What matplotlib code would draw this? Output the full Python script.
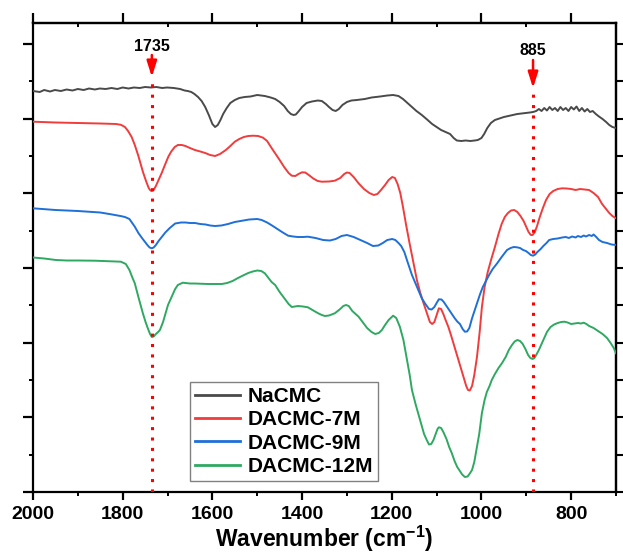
import numpy as np
import matplotlib
matplotlib.use("Agg")
import matplotlib.pyplot as plt
from matplotlib.ticker import MultipleLocator

plt.rcParams['font.family'] = ['Liberation Sans', 'DejaVu Sans']
plt.rcParams['font.weight'] = 'bold'
plt.rcParams['mathtext.fontset'] = 'custom'
plt.rcParams['mathtext.rm'] = 'Liberation Sans:bold'
plt.rcParams['mathtext.bf'] = 'Liberation Sans:bold'
plt.rcParams['mathtext.default'] = 'bf'

# ---------------- data (wavenumber cm-1, transmittance offset a.u.) ----------------
nacmc_wn = [2000, 1985, 1975, 1962, 1951, 1938, 1925, 1912, 1900, 1887, 1875, 1862, 1851, 1838, 1825,
            1812, 1800, 1787, 1775, 1762, 1750, 1737, 1725, 1712, 1701, 1686, 1672, 1662, 1655,
            1647, 1640, 1632, 1624, 1616, 1608, 1600, 1594, 1588, 1582, 1576, 1568, 1560, 1550, 1540,
            1528, 1515, 1500, 1483, 1470, 1460, 1450, 1440, 1432, 1425, 1419, 1414, 1408, 1400,
            1390, 1378, 1365, 1356, 1347, 1340, 1332, 1325, 1318, 1310, 1300, 1290, 1278, 1260,
            1245, 1226, 1210, 1197, 1185, 1175, 1165, 1155, 1145, 1133, 1120, 1110, 1100, 1090,
            1080, 1070, 1062, 1055, 1045, 1035, 1025, 1015, 1008, 1000, 994, 987, 979, 970, 960,
            950, 940, 930, 920, 910, 900, 892, 885, 878, 872, 866, 860, 854, 848, 842, 836, 830, 824,
            818, 812, 806, 800, 794, 788, 782, 776, 770, 764, 758, 752, 745, 738, 730, 722, 715,
            708, 700]
nacmc_y = [401, 400, 402, 400.5, 402, 401, 402.5, 401.5, 403, 402, 403.5, 402.5, 403.5, 403, 404,
           403, 404.5, 403.5, 404.5, 404, 405, 404.5, 405, 404, 404.5, 404, 403, 401.5, 401,
           400, 398, 395, 391, 385, 377, 368, 365, 367, 372, 378, 384, 389, 392, 394,
           395, 395.5, 397, 396, 394.5, 393, 390, 386, 381, 378, 377, 377.5, 380.5, 385,
           389, 390.5, 391.5, 391, 388, 385, 382, 381, 383, 387, 390, 391.5, 392, 393,
           394.5, 395.5, 396.5, 397, 396, 393, 389, 385, 381, 377, 372, 368, 365, 362,
           360, 358, 354, 351.5, 351, 351.5, 351, 351.5, 352, 354, 358, 364, 369, 372, 373.5,
           375, 376, 377, 378, 378.5, 379, 379.5, 380, 381, 383, 381, 384, 381.5, 385, 382, 384, 381, 385,
           382, 384, 381, 385, 382.5, 385.5, 381, 384, 380.5, 383, 380, 381, 378, 375.5, 373, 370, 367,
           365, 364]

dacmc7_wn = [2000, 1950, 1900, 1850, 1815, 1804, 1795, 1788, 1780, 1773, 1765, 1755, 1748, 1742,
             1738, 1735, 1731, 1726, 1720, 1713, 1705, 1698, 1692, 1684, 1677, 1668, 1660,
             1650, 1639, 1627, 1616, 1605, 1594, 1583, 1570, 1560, 1550, 1540, 1530, 1520, 1509, 1498,
             1487, 1478, 1468, 1460, 1450, 1440, 1430, 1423, 1415, 1408, 1400, 1393, 1385, 1375, 1365,
             1356, 1340, 1327, 1315, 1306, 1300, 1294, 1285, 1274, 1262, 1250, 1240, 1232, 1224,
             1215, 1207, 1199, 1193, 1187, 1181, 1175, 1168, 1160, 1152, 1144, 1137, 1130, 1124,
             1119, 1115, 1110, 1105, 1100, 1095, 1090, 1085, 1080, 1074, 1068, 1062, 1056, 1050, 1044,
             1038, 1034, 1030, 1026, 1021, 1016, 1010, 1004, 999, 993, 986, 978, 970, 962, 955, 948,
             941, 934, 927, 920, 913, 906, 900, 895, 890, 886, 881, 876, 870, 863, 856, 848, 840,
             830, 820, 810, 800, 790, 780, 770, 760, 750, 740, 731, 722, 715, 708, 700]
dacmc7_y = [370.3, 369.5, 369, 368.5, 368, 367.2, 365, 361, 355, 347, 336, 320.3, 311, 304,
            301.5, 301, 302, 306, 312, 319, 328, 335.5, 340.3, 345, 347, 347, 346,
            344, 342, 340.5, 339, 337, 336, 338, 342, 346, 350.3, 353, 355, 356, 356.3, 356,
            354.3, 351, 344, 338.7, 332, 325, 319, 316.3, 316, 318, 319.7, 319.5, 317, 313.5, 311,
            310.3, 310.5, 311.3, 314, 318, 319.5, 319, 315, 308.7, 303, 299, 297, 298, 302,
            307, 312, 315, 314, 308, 299, 285, 267, 248, 230, 212, 200, 190, 182,
            175, 170, 168, 170, 177, 183.7, 183, 178, 172, 165.3, 157, 148, 139, 130, 121,
            112, 106, 102, 101.5, 106, 117, 135, 160, 185, 205, 220, 233, 245, 258, 268, 275,
            279, 281.5, 282, 280, 276, 271, 265, 260, 257, 257, 260, 266, 275, 284, 292, 298, 301,
            303, 303.7, 303.5, 303, 302, 303, 302.5, 302, 299, 295, 288, 283, 279, 276, 273.7]

dacmc9_wn = [2000, 1950, 1900, 1850, 1826, 1805, 1795, 1785, 1773, 1765, 1757, 1750, 1745, 1740,
             1735, 1731, 1726, 1720, 1713, 1705, 1695, 1683, 1670, 1660, 1650, 1639, 1627, 1615, 1605,
             1594, 1580, 1565, 1550, 1534, 1518, 1500, 1490, 1478, 1467, 1455, 1443, 1431, 1420,
             1410, 1398, 1387, 1370, 1353, 1338, 1325, 1312, 1300, 1285, 1270, 1255, 1242, 1230,
             1220, 1210, 1199, 1192, 1185, 1179, 1172, 1164, 1155, 1144, 1133, 1125, 1117, 1111,
             1105, 1100, 1095, 1089, 1084, 1078, 1072, 1066, 1060, 1054, 1048, 1042, 1037, 1032,
             1027, 1021, 1015, 1009, 1003, 997, 990, 983, 975, 965, 955, 943, 935, 928, 921, 914,
             907, 901, 895, 890, 885, 880, 876, 868, 862, 855, 849, 840, 830, 820, 812, 805, 798,
             790, 785, 778, 772, 767, 760, 754, 750, 744, 738, 730, 720, 710, 700]
dacmc9_y = [283.7, 282, 281, 279.5, 277.7, 276, 275, 273, 265.3, 259, 254, 250, 247, 244.5,
            243.7, 244.5, 247, 251, 255, 259.5, 264, 268.5, 269.5, 269.5, 269, 269, 268, 267.5, 266.5,
            266, 266.5, 268, 270, 271.3, 272.5, 273, 272, 269.5, 266.5, 263, 259.5, 256.3, 255.5,
            255, 255, 255.3, 254, 252, 251.5, 253, 256, 257, 255, 252, 249, 246, 246.5,
            249, 252, 253, 252, 249, 246, 240, 229, 217, 205.3, 193.7, 188, 183, 182.5,
            185, 189, 192.7, 192.5, 190, 186, 182, 178, 174, 170.5, 168, 163, 160.3, 160.5,
            164, 173.7, 182, 190, 198, 205, 211, 217, 223, 228.7, 235, 242, 244, 245, 244.7, 244,
            242, 241, 239, 237, 236.3, 237.5, 239.7, 243, 246, 249, 252, 253, 253.5, 254.5, 255, 254, 255.5,
            254.5, 256, 255, 256.5, 255.5, 257, 256, 257.5, 255, 252, 250, 249, 247.5, 247]

dacmc12_wn = [2000, 1975, 1949, 1925, 1900, 1862, 1830, 1804, 1793, 1785, 1778, 1773, 1765, 1755,
              1749, 1744, 1739, 1735, 1731, 1726, 1721, 1717, 1710, 1703, 1699, 1690, 1683, 1677,
              1666, 1650, 1640, 1625, 1610, 1595, 1579, 1567, 1555, 1545, 1534, 1520, 1510, 1500,
              1491, 1483, 1475, 1468, 1460, 1450, 1438, 1430, 1423, 1416, 1409, 1398, 1387, 1375,
              1364, 1356, 1349, 1340, 1327, 1315, 1308, 1302, 1296, 1288, 1274, 1265, 1255, 1245,
              1237, 1229, 1222, 1215, 1207, 1197, 1190, 1182, 1174, 1166, 1160, 1155, 1147, 1139,
              1133, 1128, 1122, 1117, 1112, 1107, 1102, 1098, 1095, 1090, 1085, 1078, 1072, 1066,
              1060, 1054, 1048, 1043, 1037, 1031, 1026, 1021, 1016, 1012, 1005, 999, 993, 988, 982,
              977, 970, 962, 954, 946, 939, 932, 926, 920, 914, 908, 902, 896, 891, 886, 882, 878,
              872, 866, 860, 854, 846, 838, 830, 822, 815, 808, 800, 792, 785, 778, 772, 766, 760, 750,
              740, 730, 720, 712, 705, 700]
dacmc12_y = [234.5, 233.5, 232, 231.5, 231.5, 231.3, 230.8, 230.3, 228, 222, 214, 208.7, 195, 178.7,
             170, 163.7, 158, 155, 155.5, 158, 160, 162, 170, 181, 187, 196, 203, 207,
             209.3, 208.5, 208.5, 208.2, 208, 208, 208, 209, 211, 213.5, 216, 219, 220.5, 221.5,
             221, 218.7, 214, 210, 207, 200, 192.7, 188, 185, 185.5, 186, 185.5, 184.7, 181.5,
             178.7, 177, 176, 176.5, 178.7, 183, 186, 187, 186, 181, 175.3, 170, 164, 160,
             158, 159, 162, 167, 172, 176.3, 174, 165.3, 152, 132, 117, 102, 88, 75.3,
             66, 58, 52, 47.5, 48, 52, 58, 63, 64.7, 64, 60, 53, 45, 38.7,
             31, 25, 21, 17.5, 15, 15.5, 18.5, 22, 30, 40, 58, 79, 92, 100, 106,
             112, 118, 124, 129, 135, 142, 147, 150.5, 152, 151, 148, 143, 137, 134, 133, 134, 137,
             142, 148, 154, 160, 165, 167.5, 169, 170, 170.3, 169.5, 168, 168.5, 169, 168.5, 169.3, 168, 166, 164,
             161, 158, 154, 149, 144, 138.7]

series_names = ['NaCMC', 'DACMC-7M', 'DACMC-9M', 'DACMC-12M']
series_colors = ['#4a4a4a', '#f03c3c', '#1f6fd8', '#2fa862']

marked_peaks = [1735, 885]
x_ticks = [2000, 1800, 1600, 1400, 1200, 1000, 800]

# ---------------- figure ----------------
fig = plt.figure(figsize=(6.23, 5.56), dpi=100)
ax = fig.add_axes([33/623, 1 - 492/556, 583/623, 469.3/556])

all_wn = [nacmc_wn, dacmc7_wn, dacmc9_wn, dacmc12_wn]
all_y = [nacmc_y, dacmc7_y, dacmc9_y, dacmc12_y]
for wn, yv, name, col in zip(all_wn, all_y, series_names, series_colors):
    ax.plot(wn, yv, color=col, lw=1.4, label=name, zorder=3, solid_joinstyle='round')

ax.set_xlim(2000, 700)
ax.set_ylim(0, 469.3)

# marker lines and arrows
tip_y = {1735: 415, 885: 404}
tail_y = {1735: 437, 885: 432}
txt_y = {1735: 446, 885: 442}
for p in marked_peaks:
    ax.plot([p, p], [0, tip_y[p]], color='red', lw=2.2, linestyle=(0, (1.0, 2.4)), zorder=4)
    ax.annotate('', xy=(p, tip_y[p]), xytext=(p, tail_y[p]),
                arrowprops=dict(arrowstyle='-|>,head_length=0.95,head_width=0.3',
                                color='red', lw=1.8, shrinkA=0, shrinkB=0, mutation_scale=10),
                zorder=5)
    ax.text(p, txt_y[p], str(p), ha='center', va='center', fontsize=11.5, fontweight='bold')

# axes styling
for s in ax.spines.values():
    s.set_linewidth(1.6)

ax.set_xticks(x_ticks)
ax.xaxis.set_minor_locator(MultipleLocator(100))
ax.yaxis.set_major_locator(MultipleLocator(74.7))
ax.yaxis.set_minor_locator(MultipleLocator(74.7 / 2))
ax.set_yticklabels([])
ax.tick_params(axis='x', which='major', direction='out', length=6, width=1.6,
               labelsize=14, pad=4, top=False)
ax.tick_params(axis='x', which='minor', direction='out', length=3, width=1.4, top=False)
ax.tick_params(axis='y', which='major', direction='out', length=7, width=1.6, right=False)
ax.tick_params(axis='y', which='minor', direction='out', length=3, width=1.4, right=False)
for lab in ax.get_xticklabels():
    lab.set_fontweight('bold')

# top axis: major out, minor in
secx = ax.secondary_xaxis('top')
secx.set_xticks(x_ticks)
secx.xaxis.set_minor_locator(MultipleLocator(100))
secx.set_xticklabels([])
secx.tick_params(axis='x', which='major', direction='out', length=7, width=1.6)
secx.tick_params(axis='x', which='minor', direction='in', length=3, width=1.4)
secx.spines['top'].set_linewidth(1.6)

# right axis: all ticks out, equal length
secy = ax.secondary_yaxis('right')
secy.yaxis.set_major_locator(MultipleLocator(74.7 / 2))
secy.yaxis.set_minor_locator(plt.NullLocator())
secy.set_yticklabels([])
secy.tick_params(axis='y', which='major', direction='out', length=5, width=1.5)
secy.spines['right'].set_linewidth(1.6)

ax.set_xlabel(r'Wavenumber (cm$^{-1}$)', fontsize=16.5, fontweight='bold', labelpad=1)

leg = ax.legend(loc='lower left', bbox_to_anchor=(0.2693, 0.0234), fontsize=15,
                frameon=True, fancybox=False, edgecolor='#808080', framealpha=1,
                handlelength=2.16, handletextpad=0.34, labelspacing=0.2, borderpad=0.25,
                borderaxespad=0)
leg.get_frame().set_linewidth(1.0)
for line in leg.get_lines():
    line.set_linewidth(2)
for t in leg.get_texts():
    t.set_fontweight('bold')

fig.savefig('out.png', dpi=100)
